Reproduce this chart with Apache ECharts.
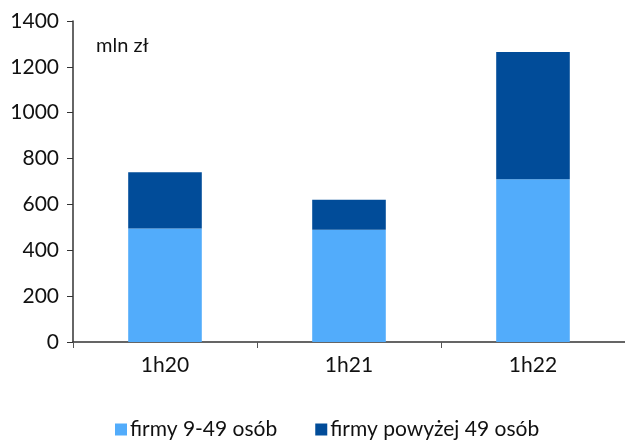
<!DOCTYPE html>
<html>
<head>
<meta charset="utf-8">
<script src="https://cdn.jsdelivr.net/npm/echarts@6/dist/echarts.min.js"></script>
<style>
  html, body { margin: 0; padding: 0; background: #fff; }
  #chart { width: 625px; height: 441px; }
</style>
</head>
<body>
<div id="chart"></div>
<script>
  // dane (mln zł)
  var categories = ['1h20', '1h21', '1h22'];
  var smallFirms = [495, 490, 710];
  var bigFirms = [245, 130, 555];
  var seriesNames = ['firmy 9-49 osób', 'firmy powyżej 49 osób'];

  var font = 'Lato, "Open Sans", sans-serif';
  var myChart = echarts.init(document.getElementById('chart'));
  myChart.setOption({
    animation: false,
    textStyle: {fontFamily: font},
    grid: {left: 73, right: 0, top: 21, bottom: 99},
    legend: {
      top: 414,
      left: 110,
      itemGap: 38,
      itemWidth: 12,
      itemHeight: 12,
      icon: 'rect',
      textStyle: {fontSize: 21, color: '#111', fontFamily: font, padding: [0, 0, 0, -2]},
      data: seriesNames
    },
    graphic: [{
      type: 'text',
      left: 96,
      top: 36,
      style: {text: 'mln zł', fontSize: 20, fill: '#111', fontFamily: font}
    }],
    xAxis: {
      type: 'category',
      data: categories,
      axisLine: {lineStyle: {color: '#333', width: 1.5}},
      axisTick: {show: true, length: 6, lineStyle: {color: '#555'}},
      axisLabel: {fontSize: 21, color: '#111', margin: 13}
    },
    yAxis: {
      type: 'value',
      min: 0,
      max: 1400,
      interval: 200,
      splitLine: {show: false},
      axisLine: {show: true, lineStyle: {color: '#333', width: 1.5}},
      axisTick: {show: true, length: 6, lineStyle: {color: '#333'}},
      axisLabel: {fontSize: 21, color: '#111', margin: 14, formatter: function (v) { return String(v); }}
    },
    series: [
      {
        name: seriesNames[0],
        type: 'bar',
        stack: 'total',
        barWidth: '40%',
        itemStyle: {color: '#52acfb'},
        data: smallFirms
      },
      {
        name: seriesNames[1],
        type: 'bar',
        stack: 'total',
        itemStyle: {color: '#014c99'},
        data: bigFirms
      }
    ]
  });
</script>
</body>
</html>
